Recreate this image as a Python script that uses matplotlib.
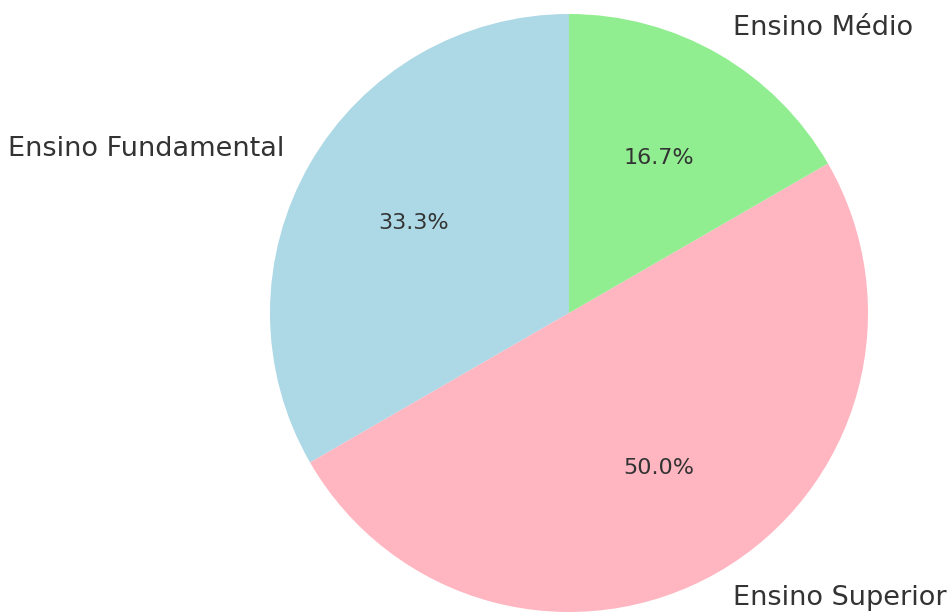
import matplotlib.pyplot as plt

# dados do grafico
categorias = ['Ensino Fundamental', 'Ensino Superior', 'Ensino Médio']
valores = [2, 3, 1]
cores = ['lightblue', 'lightpink', 'lightgreen']

fig = plt.figure(figsize=(9.49, 6.12), dpi=100)
ax = fig.add_axes([0, 0, 1, 1])

wedges, texts, autotexts = ax.pie(valores, labels=categorias, colors=cores,
                                  autopct='%1.1f%%', startangle=90,
                                  textprops={'color': '#333333'})
for t in texts:
    t.set_fontsize(19.5)
for t in autotexts:
    t.set_fontsize(16)

# centro em (569, 313) px, raio ~299 px
r = 299.0
ax.set_xlim(-569 / r, (949 - 569) / r)
ax.set_ylim(-(612 - 313) / r, 313 / r)
ax.axis('off')

fig.savefig('out.png', dpi=100)
